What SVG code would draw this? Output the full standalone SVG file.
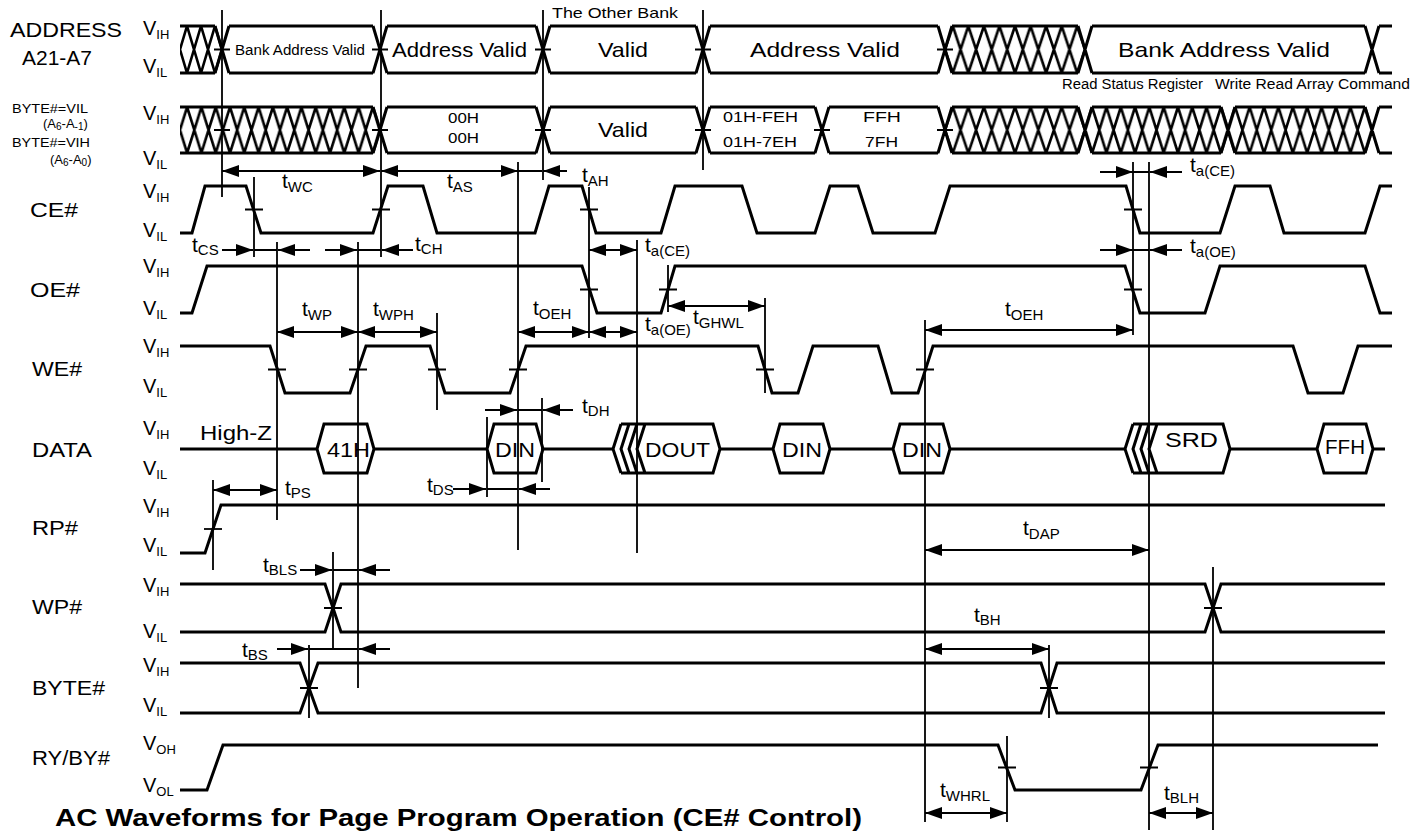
<svg xmlns="http://www.w3.org/2000/svg" width="1425" height="832" viewBox="0 0 1425 832">
<defs>
<style>
text{font-family:"Liberation Sans",Arial,Helvetica,sans-serif;fill:#000}
.sig{fill:none;stroke:#000;stroke-width:3;stroke-linejoin:miter}
.ref{fill:none;stroke:#000;stroke-width:1.8}
.tick{fill:none;stroke:#000;stroke-width:1.8}
.dim{fill:none;stroke:#000;stroke-width:2}
.d2{fill:none;stroke:#000;stroke-width:2;marker-start:url(#ah);marker-end:url(#ah)}
.d1{fill:none;stroke:#000;stroke-width:2;marker-end:url(#ah)}
.name{font-size:21px}
.v{font-size:20px}
.vs{font-size:13px}
.t{font-size:21px}
.ts{font-size:15px}
.bus{font-size:21px}
.small{font-size:15px}
.dat{font-size:20px}
.title{font-size:23px;font-weight:bold}
</style>
<marker id="ah" viewBox="0 0 17 12" refX="17" refY="6" markerWidth="17" markerHeight="12" markerUnits="userSpaceOnUse" orient="auto-start-reverse"><path d="M0,0L17,6L0,12Z" fill="#000"/></marker>
<pattern id="hA1" patternUnits="userSpaceOnUse" x="173" y="26" width="14" height="47"><path d="M0,0L14,47M0,47L14,0" stroke="#000" stroke-width="2.6" fill="none"/></pattern>
<pattern id="hA2" patternUnits="userSpaceOnUse" x="937.222" y="26" width="15.556" height="47"><path d="M0,0L15.556,47M0,47L15.556,0" stroke="#000" stroke-width="2.6" fill="none"/></pattern>
<pattern id="hB1" patternUnits="userSpaceOnUse" x="172.857" y="107" width="14.286" height="46"><path d="M0,0L14.286,46M0,46L14.286,0" stroke="#000" stroke-width="2.6" fill="none"/></pattern>
<pattern id="hB2" patternUnits="userSpaceOnUse" x="937.222" y="107" width="15.556" height="46"><path d="M0,0L15.556,46M0,46L15.556,0" stroke="#000" stroke-width="2.6" fill="none"/></pattern>
<pattern id="hB3" patternUnits="userSpaceOnUse" x="1077.85" y="107" width="14.3" height="46"><path d="M0,0L14.3,46M0,46L14.3,0" stroke="#000" stroke-width="2.6" fill="none"/></pattern>
<pattern id="hB4" patternUnits="userSpaceOnUse" x="1220.8" y="107" width="14.4" height="46"><path d="M0,0L14.4,46M0,46L14.4,0" stroke="#000" stroke-width="2.6" fill="none"/></pattern>
</defs>
<rect x="0" y="0" width="1425" height="832" fill="#fff"/>

<g id="sig-address">
<text class="name" x="10" y="37" textLength="112" lengthAdjust="spacingAndGlyphs">ADDRESS</text>
<text class="name" x="22" y="65" textLength="70" lengthAdjust="spacingAndGlyphs">A21-A7</text>
<text class="v" x="143" y="35">V<tspan class="vs" dy="4">IH</tspan></text>
<text class="v" x="143" y="73">V<tspan class="vs" dy="4">IL</tspan></text>
<rect x="180" y="26" width="42" height="47" fill="url(#hA1)"/>
<rect x="945" y="26" width="140" height="47" fill="url(#hA2)"/>
<path class="sig" d="M180,26H215M229,26H373M387,26H536M550,26H696M710,26H938M952,26H1078M1092,26H1365M1379,26H1392M180,73H215M229,73H373M387,73H536M550,73H696M710,73H938M952,73H1078M1092,73H1365M1379,73H1392M215,26L229,73M215,73L229,26M373,26L387,73M373,73L387,26M536,26L550,73M536,73L550,26M696,26L710,73M696,73L710,26M938,26L952,73M938,73L952,26M1078,26L1092,73M1078,73L1092,26M1365,26L1379,73M1365,73L1379,26"/>
<path class="tick" d="M214,49.5H230M372,49.5H388M535,49.5H551M695,49.5H711M937,49.5H953"/>
<text x="235" y="55" font-size="14" textLength="130" lengthAdjust="spacingAndGlyphs">Bank Address Valid</text>
<text class="bus" x="392" y="57" textLength="135" lengthAdjust="spacingAndGlyphs">Address Valid</text>
<text class="bus" x="598" y="57" textLength="50" lengthAdjust="spacingAndGlyphs">Valid</text>
<text class="bus" x="750" y="57" textLength="150" lengthAdjust="spacingAndGlyphs">Address Valid</text>
<text class="bus" x="1118" y="57" textLength="212" lengthAdjust="spacingAndGlyphs">Bank Address Valid</text>
<text class="small" x="552" y="18" textLength="126" lengthAdjust="spacingAndGlyphs">The Other Bank</text>
<text x="1062" y="89" font-size="14" textLength="141" lengthAdjust="spacingAndGlyphs">Read Status Register</text>
<text x="1215" y="89" font-size="14" textLength="195" lengthAdjust="spacingAndGlyphs">Write Read Array Command</text>
</g>

<g id="sig-address-low">
<text x="12" y="113" font-size="13" textLength="76" lengthAdjust="spacingAndGlyphs">BYTE#=VIL</text>
<text x="43" y="128" font-size="13">(A<tspan font-size="10" dy="2">6</tspan><tspan dy="-2">-A</tspan><tspan font-size="10" dy="2">-1</tspan><tspan dy="-2">)</tspan></text>
<text x="12" y="147" font-size="13" textLength="78" lengthAdjust="spacingAndGlyphs">BYTE#=VIH</text>
<text x="50" y="164" font-size="13">(A<tspan font-size="10" dy="2">6</tspan><tspan dy="-2">-A</tspan><tspan font-size="10" dy="2">0</tspan><tspan dy="-2">)</tspan></text>
<text class="v" x="143" y="120">V<tspan class="vs" dy="4">IH</tspan></text>
<text class="v" x="143" y="165">V<tspan class="vs" dy="4">IL</tspan></text>
<rect x="180" y="107" width="200" height="46" fill="url(#hB1)"/>
<rect x="945" y="107" width="140" height="46" fill="url(#hB2)"/>
<rect x="1085" y="107" width="143" height="46" fill="url(#hB3)"/>
<rect x="1228" y="107" width="144" height="46" fill="url(#hB4)"/>
<path class="sig" d="M180,107H373M387,107H536M550,107H696M710,107H815M829,107H938M952,107H1078M1092,107H1221M1235,107H1365M1379,107H1392M180,153H373M387,153H536M550,153H696M710,153H815M829,153H938M952,153H1078M1092,153H1221M1235,153H1365M1379,153H1392M373,107L387,153M373,153L387,107M536,107L550,153M536,153L550,107M696,107L710,153M696,153L710,107M815,107L829,153M815,153L829,107M938,107L952,153M938,153L952,107M1078,107L1092,153M1078,153L1092,107M1221,107L1235,153M1221,153L1235,107M1365,107L1379,153M1365,153L1379,107"/>
<path class="tick" d="M214,130H230M372,130H388M535,130H551M695,130H711M814,130H830M937,130H953"/>
<text class="small" x="448" y="123" textLength="31" lengthAdjust="spacingAndGlyphs">00H</text>
<text class="small" x="448" y="143" textLength="31" lengthAdjust="spacingAndGlyphs">00H</text>
<text class="bus" x="598" y="137" textLength="50" lengthAdjust="spacingAndGlyphs">Valid</text>
<text class="small" x="723" y="122" textLength="75" lengthAdjust="spacingAndGlyphs">01H-FEH</text>
<text class="small" x="723" y="147" textLength="74" lengthAdjust="spacingAndGlyphs">01H-7EH</text>
<text class="small" x="863" y="122" textLength="38" lengthAdjust="spacingAndGlyphs">FFH</text>
<text class="small" x="865" y="147" textLength="33" lengthAdjust="spacingAndGlyphs">7FH</text>
</g>

<g id="sig-ce">
<text class="name" x="30" y="217" textLength="48" lengthAdjust="spacingAndGlyphs">CE#</text>
<text class="v" x="143" y="198">V<tspan class="vs" dy="4">IH</tspan></text>
<text class="v" x="143" y="237">V<tspan class="vs" dy="4">IL</tspan></text>
<path class="sig" d="M180,233H192L205,186H246L261,233H373L388,186H423L437,233H535L549,186H582L596,233H661L675,186H742L757,233H815L830,186H858L873,233H935L950,186H1126L1140,233H1220L1235,186H1270L1284,233H1365L1380,186H1392"/>
<path class="tick" d="M245,209.5H263M372,209.5H390M580,209.5H598M1124,209.5H1142"/>
</g>

<g id="sig-oe">
<text class="name" x="30" y="297" textLength="50" lengthAdjust="spacingAndGlyphs">OE#</text>
<text class="v" x="143" y="273">V<tspan class="vs" dy="4">IH</tspan></text>
<text class="v" x="143" y="315">V<tspan class="vs" dy="4">IL</tspan></text>
<path class="sig" d="M180,313H192L207,266H582L597,313H661L675,266H1125L1140,313H1205L1220,266H1365L1380,313H1392"/>
<path class="tick" d="M580,289.5H598M659,289.5H677M1124,289.5H1142"/>
</g>

<g id="sig-we">
<text class="name" x="32" y="376" textLength="50" lengthAdjust="spacingAndGlyphs">WE#</text>
<text class="v" x="143" y="353">V<tspan class="vs" dy="4">IH</tspan></text>
<text class="v" x="143" y="393">V<tspan class="vs" dy="4">IL</tspan></text>
<path class="sig" d="M180,346H270L285,393H350L366,346H430L445,393H510L526,346H758L772,393H798L813,346H878L892,393H918L933,346H1293L1308,393H1343L1358,346H1392"/>
<path class="tick" d="M268,369.5H286M349,369.5H367M428,369.5H446M509,369.5H527M756,369.5H774M916,369.5H934"/>
</g>

<g id="sig-data">
<text class="name" x="32" y="457" textLength="60" lengthAdjust="spacingAndGlyphs">DATA</text>
<text class="v" x="143" y="435">V<tspan class="vs" dy="4">IH</tspan></text>
<text class="v" x="143" y="475">V<tspan class="vs" dy="4">IL</tspan></text>
<text class="bus" x="200" y="440" textLength="72" lengthAdjust="spacingAndGlyphs">High-Z</text>
<path class="sig" d="M180,449H317M374,449H487M543,449H613M720,449H773M830,449H893M950,449H1125M1230,449H1317M1373,449H1385"/>
<path class="sig" d="M317,449L324,424H367L374,449L367,473H324Z"/>
<path class="sig" d="M487,449L494,424H536L543,449L536,473H494Z"/>
<path class="sig" d="M621,424L613,449L621,473M629,424L621,449L629,473M637,424L629,449L637,473M645,424L637,449L645,473M621,424H713L720,449L713,473H621"/>
<path class="sig" d="M773,449L780,424H823L830,449L823,473H780Z"/>
<path class="sig" d="M893,449L900,424H943L950,449L943,473H900Z"/>
<path class="sig" d="M1133,424L1125,449L1133,473M1141,424L1133,449L1141,473M1149,424L1141,449L1149,473M1157,424L1149,449L1157,473M1133,424H1223L1230,449L1223,473H1133"/>
<path class="sig" d="M1317,449L1324,424H1366L1373,449L1366,473H1324Z"/>
<text class="dat" x="327" y="457" textLength="43" lengthAdjust="spacingAndGlyphs">41H</text>
<text class="dat" x="495" y="457" textLength="40" lengthAdjust="spacingAndGlyphs">DIN</text>
<text class="dat" x="645" y="457" textLength="65" lengthAdjust="spacingAndGlyphs">DOUT</text>
<text class="dat" x="782" y="457" textLength="40" lengthAdjust="spacingAndGlyphs">DIN</text>
<text class="dat" x="902" y="457" textLength="40" lengthAdjust="spacingAndGlyphs">DIN</text>
<text class="dat" x="1165" y="447" textLength="53" lengthAdjust="spacingAndGlyphs">SRD</text>
<text class="dat" x="1325" y="454" textLength="40" lengthAdjust="spacingAndGlyphs">FFH</text>
</g>

<g id="sig-rp">
<text class="name" x="32" y="535" textLength="46" lengthAdjust="spacingAndGlyphs">RP#</text>
<text class="v" x="143" y="513">V<tspan class="vs" dy="4">IH</tspan></text>
<text class="v" x="143" y="552">V<tspan class="vs" dy="4">IL</tspan></text>
<path class="sig" d="M180,553H205L221,505H1385"/>
<path class="tick" d="M204,529H222"/>
</g>

<g id="sig-wp">
<text class="name" x="32" y="614" textLength="50" lengthAdjust="spacingAndGlyphs">WP#</text>
<text class="v" x="143" y="592">V<tspan class="vs" dy="4">IH</tspan></text>
<text class="v" x="143" y="638">V<tspan class="vs" dy="4">IL</tspan></text>
<path class="sig" d="M180,584H325L341,632H1205L1221,584H1385M180,632H325L341,584H1205L1221,632H1385"/>
<path class="tick" d="M324,608H342M1204,608H1222"/>
</g>

<g id="sig-byte">
<text class="name" x="32" y="695" textLength="73" lengthAdjust="spacingAndGlyphs">BYTE#</text>
<text class="v" x="143" y="672">V<tspan class="vs" dy="4">IH</tspan></text>
<text class="v" x="143" y="712">V<tspan class="vs" dy="4">IL</tspan></text>
<path class="sig" d="M180,663H300L318,713H1041L1057,663H1385M180,713H300L318,663H1041L1057,713H1385"/>
<path class="tick" d="M300,688H318M1040,688H1058"/>
</g>

<g id="sig-rdy">
<text class="name" x="32" y="765" textLength="78" lengthAdjust="spacingAndGlyphs">RY/BY#</text>
<text class="v" x="143" y="750">V<tspan class="vs" dy="4">OH</tspan></text>
<text class="v" x="143" y="792">V<tspan class="vs" dy="4">OL</tspan></text>
<path class="sig" d="M180,790H207L223,745H998L1015,790H1141L1158,745H1378"/>
<path class="tick" d="M998,767.5H1016M1140,767.5H1158"/>
</g>

<g id="connectors">
<path class="ref" d="M222,10V197M254,177V257M381,10V257M543,10V180M518,162V550M589,187V338M637,240V553M668,265V312M703,10V170M765,298V393M925,320V822M1133,162V335M1149,162V830M213,480V570M277,242V520M358,242V688M437,313V410M487,417V497M542,398V482M333,552V648M309,645V718M1049,645V718M1007,736V822M1213,567V830"/>
<path class="d2" d="M222,171H380"/>
<path class="d2" d="M381,171H518"/>
<path class="dim" d="M518,171H542"/>
<path class="d1" d="M567,171H543"/>
<path class="d1" d="M1100,172H1133"/>
<path class="dim" d="M1133,172H1149"/>
<path class="d1" d="M1182,172H1150"/>
<path class="d1" d="M222,250H253"/>
<path class="dim" d="M254,250H277"/>
<path class="d1" d="M310,250H278"/>
<path class="d1" d="M325,250H357"/>
<path class="dim" d="M358,250H381"/>
<path class="d1" d="M413,250H382"/>
<path class="d2" d="M589,250H637"/>
<path class="d1" d="M1100,250H1133"/>
<path class="dim" d="M1133,250H1149"/>
<path class="d1" d="M1182,250H1150"/>
<path class="d2" d="M277,332H358"/>
<path class="d2" d="M358,332H437"/>
<path class="d2" d="M518,332H589"/>
<path class="d2" d="M589,332H637"/>
<path class="d2" d="M668,306H765"/>
<path class="d2" d="M925,330H1133"/>
<path class="d1" d="M485,410H517"/>
<path class="dim" d="M518,410H542"/>
<path class="d1" d="M573,410H543"/>
<path class="d1" d="M453,489H486"/>
<path class="dim" d="M487,489H518"/>
<path class="d1" d="M550,489H519"/>
<path class="d2" d="M213,490H277"/>
<path class="d1" d="M300,570H332"/>
<path class="dim" d="M333,570H358"/>
<path class="d1" d="M390,570H359"/>
<path class="d1" d="M277,649H308"/>
<path class="dim" d="M309,649H358"/>
<path class="d1" d="M390,649H359"/>
<path class="d2" d="M925,550H1149"/>
<path class="d2" d="M925,649H1049"/>
<path class="d2" d="M925,813H1007"/>
<path class="d2" d="M1149,813H1213"/>
</g>

<g id="timing-labels">
<text class="t" x="282" y="188">t<tspan class="ts" dy="4">WC</tspan></text>
<text class="t" x="447" y="188">t<tspan class="ts" dy="4">AS</tspan></text>
<text class="t" x="582" y="182">t<tspan class="ts" dy="4">AH</tspan></text>
<text class="t" x="1190" y="172">t<tspan class="ts" dy="4">a(CE)</tspan></text>
<text class="t" x="192" y="252">t<tspan class="ts" dy="3">CS</tspan></text>
<text class="t" x="415" y="251">t<tspan class="ts" dy="3">CH</tspan></text>
<text class="t" x="645" y="252">t<tspan class="ts" dy="4">a(CE)</tspan></text>
<text class="t" x="1190" y="253">t<tspan class="ts" dy="4">a(OE)</tspan></text>
<text class="t" x="302" y="316">t<tspan class="ts" dy="4">WP</tspan></text>
<text class="t" x="373" y="316">t<tspan class="ts" dy="4">WPH</tspan></text>
<text class="t" x="533" y="315">t<tspan class="ts" dy="4">OEH</tspan></text>
<text class="t" x="645" y="331">t<tspan class="ts" dy="4">a(OE)</tspan></text>
<text class="t" x="693" y="324">t<tspan class="ts" dy="4">GHWL</tspan></text>
<text class="t" x="1005" y="316">t<tspan class="ts" dy="4">OEH</tspan></text>
<text class="t" x="582" y="413">t<tspan class="ts" dy="3">DH</tspan></text>
<text class="t" x="285" y="495">t<tspan class="ts" dy="3">PS</tspan></text>
<text class="t" x="427" y="492">t<tspan class="ts" dy="3">DS</tspan></text>
<text class="t" x="263" y="572">t<tspan class="ts" dy="3">BLS</tspan></text>
<text class="t" x="242" y="657">t<tspan class="ts" dy="3">BS</tspan></text>
<text class="t" x="1023" y="535">t<tspan class="ts" dy="4">DAP</tspan></text>
<text class="t" x="974" y="622">t<tspan class="ts" dy="3">BH</tspan></text>
<text class="t" x="940" y="797">t<tspan class="ts" dy="4">WHRL</tspan></text>
<text class="t" x="1164" y="800">t<tspan class="ts" dy="3">BLH</tspan></text>
</g>

<g id="title">
<text class="title" x="55" y="826" textLength="807" lengthAdjust="spacingAndGlyphs">AC Waveforms for Page Program Operation (CE# Control)</text>
</g>
</svg>
